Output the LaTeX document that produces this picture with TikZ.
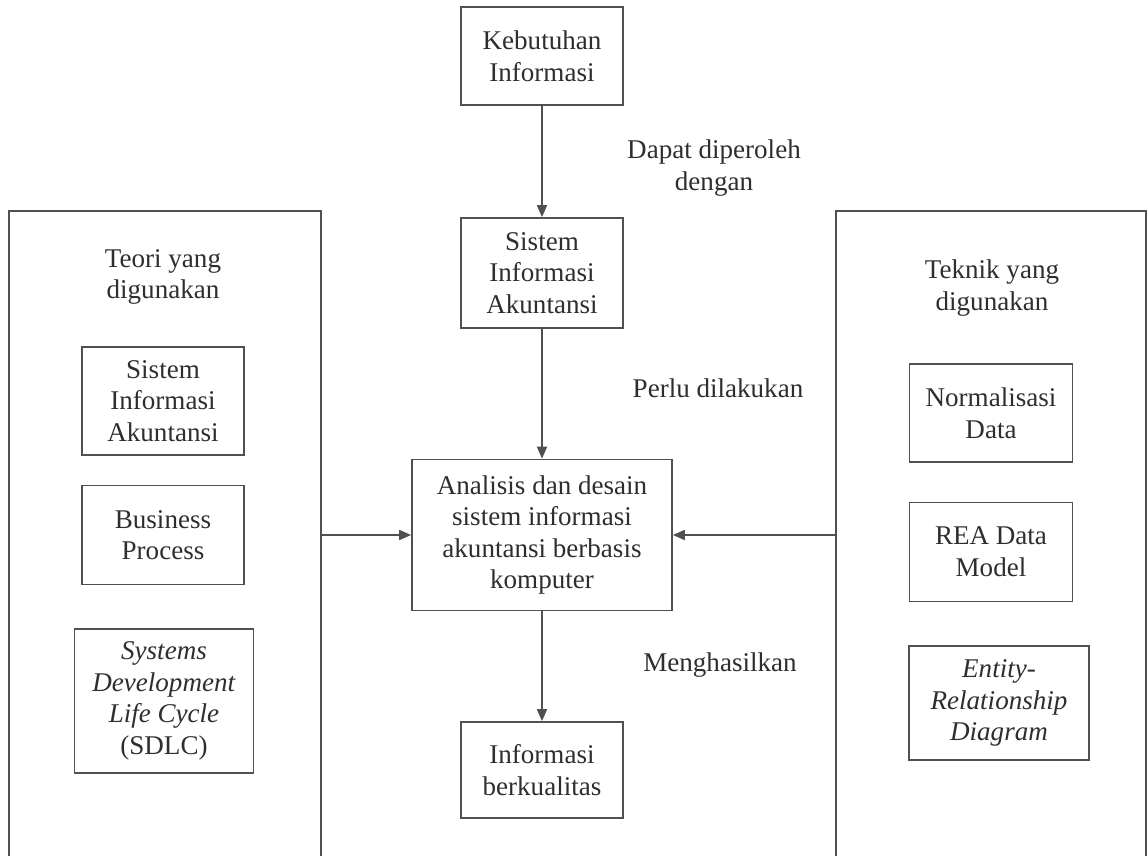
\documentclass[tikz,border=0pt]{standalone}
\usepackage{fontspec}
\setmainfont{Liberation Serif}
\usetikzlibrary{arrows.meta,positioning}
\definecolor{linegray}{HTML}{505050}
\definecolor{textgray}{HTML}{2E2E2E}

\begin{document}
\begin{tikzpicture}[x=0.02cm,y=-0.02cm,
  box/.style={draw=linegray,line width=1pt,align=center,inner sep=0pt,
    text=textgray,font=\fontsize{15.4}{18}\selectfont},
  bigbox/.style={draw=linegray,line width=1pt,inner sep=0pt},
  lbl/.style={align=center,text=textgray,font=\fontsize{15.4}{18}\selectfont},
  arr/.style={-{Triangle[length=0.24cm,width=0.2cm]},draw=linegray,line width=1pt}]
  \clip (0,0) rectangle (1147,856);

  \node[bigbox,minimum width=6.24cm,minimum height=14cm] (teori) at (165,561) {};
  \node[bigbox,minimum width=6.2cm,minimum height=14cm] (teknik) at (991,561) {};

  \node[box,minimum width=3.24cm,minimum height=1.96cm] (keb) at (542,56) {Kebutuhan\\Informasi};
  \node[box,minimum width=3.24cm,minimum height=2.2cm] (sia) at (542,273) {Sistem\\Informasi\\Akuntansi};
  \node[box,minimum width=5.2cm,minimum height=3.02cm] (ana) at (542,535)
    {Analisis dan desain\\sistem informasi\\akuntansi berbasis\\komputer};
  \node[box,minimum width=3.24cm,minimum height=1.92cm] (info) at (542,770) {Informasi\\berkualitas};

  \node[lbl] (teorititle) at (163,277) {Teori yang\\digunakan};
  \node[box,minimum width=3.24cm,minimum height=2.16cm] (lsia) at (163,401) {Sistem\\Informasi\\Akuntansi};
  \node[box,minimum width=3.24cm,minimum height=1.98cm] (lbp) at (163,535) {Business\\Process};
  \node[box,minimum width=3.58cm,minimum height=2.88cm] (lsdlc) at (164,701)
    {\textit{Systems}\\\textit{Development}\\\textit{Life Cycle}\\(SDLC)};

  \node[lbl] (teknititle) at (992,288) {Teknik yang\\digunakan};
  \node[box,minimum width=3.26cm,minimum height=1.96cm] (rnorm) at (991,413) {Normalisasi\\Data};
  \node[box,minimum width=3.26cm,minimum height=1.98cm] (rrea) at (991,552) {REA Data\\Model};
  \node[box,minimum width=3.6cm,minimum height=2.28cm] (rerd) at (999,703)
    {\textit{Entity-}\\\textit{Relationship}\\\textit{Diagram}};

  \node[lbl] (dapat) at (714,168) {Dapat diperoleh\\dengan};
  \node[lbl] (perlu) at (718,388) {Perlu dilakukan};
  \node[lbl] (hasil) at (720,665) {Menghasilkan};

  \draw[arr] (keb) -- (sia);
  \draw[arr] (sia) -- (ana);
  \draw[arr] (ana) -- (info);
  \draw[arr] (teori.east |- ana.west) -- (ana.west);
  \draw[arr] (teknik.west |- ana.east) -- (ana.east);
\end{tikzpicture}
\end{document}
